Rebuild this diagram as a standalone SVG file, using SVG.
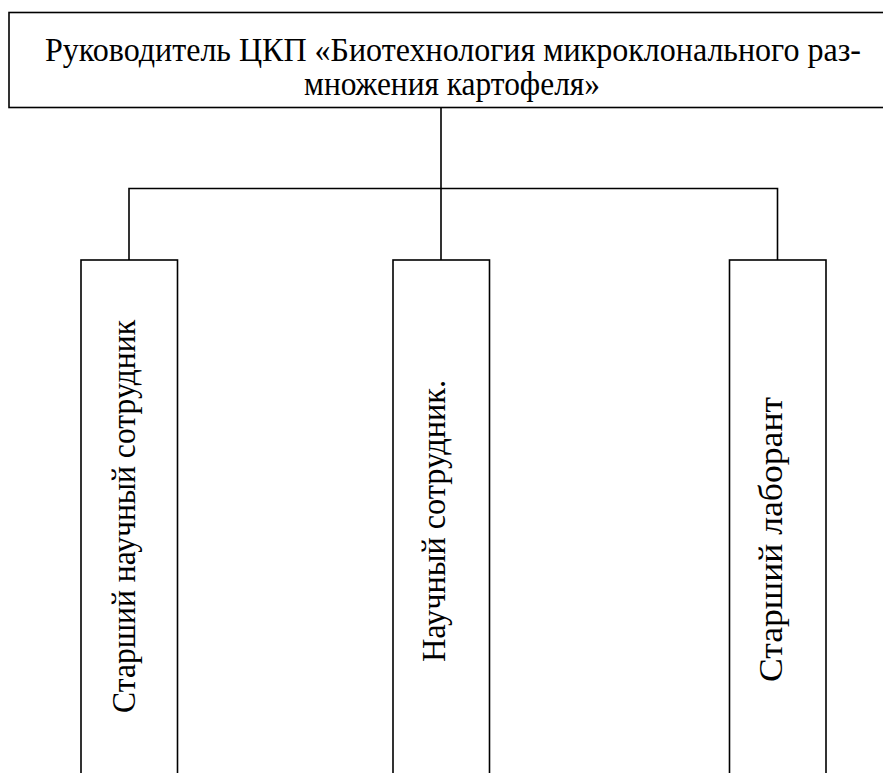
<svg xmlns="http://www.w3.org/2000/svg" width="883" height="773" viewBox="0 0 883 773">
<style>
.box{fill:#fff;stroke:#000;stroke-width:1.6}
.ln{fill:none;stroke:#000;stroke-width:1.6}
.t{font-family:"Liberation Serif","DejaVu Serif","Times New Roman",serif;fill:#000}
</style>
<rect width="883" height="773" fill="#fff"/>
<g id="connectors">
<path class="ln" d="M441 107.5V188.5M129 260V188.5H777.5V260M441 188.5V260"/>
</g>
<g id="head">
<rect class="box" x="9" y="12.5" width="890" height="95"/>
<text class="t" x="453" y="61" font-size="33" text-anchor="middle" textLength="816" lengthAdjust="spacingAndGlyphs">Руководитель ЦКП «Биотехнология микроклонального раз-</text>
<text class="t" x="452" y="95" font-size="33" text-anchor="middle" textLength="296" lengthAdjust="spacingAndGlyphs">множения картофеля»</text>
</g>
<g id="n1">
<rect class="box" x="81" y="260" width="96.5" height="530"/>
<text class="t" transform="translate(135 516.5) rotate(-90)" font-size="34" text-anchor="middle" textLength="393" lengthAdjust="spacingAndGlyphs">Старший научный сотрудник</text>
</g>
<g id="n2">
<rect class="box" x="393" y="260" width="96.5" height="530"/>
<text class="t" transform="translate(445 521) rotate(-90)" font-size="34" text-anchor="middle" textLength="282" lengthAdjust="spacingAndGlyphs">Научный сотрудник.</text>
</g>
<g id="n3">
<rect class="box" x="729.5" y="260" width="96.5" height="530"/>
<text class="t" transform="translate(782 539.5) rotate(-90)" font-size="34" text-anchor="middle" textLength="285" lengthAdjust="spacingAndGlyphs">Старший лаборант</text>
</g>
</svg>
